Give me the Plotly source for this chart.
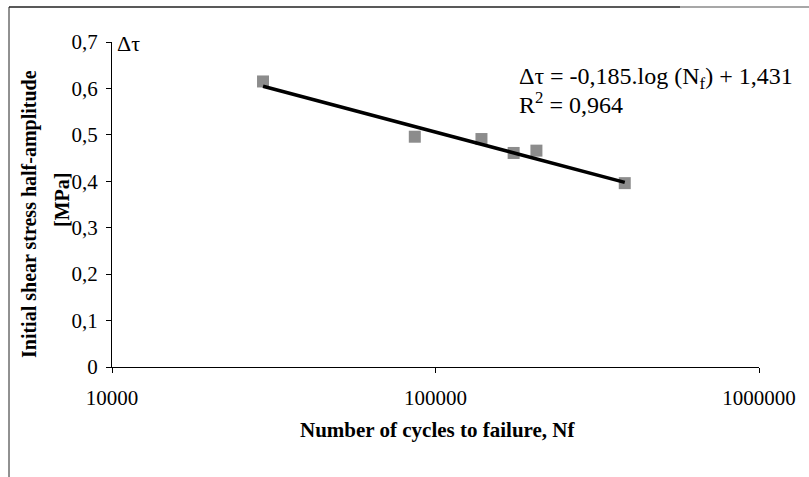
import numpy as np
import plotly.graph_objects as go

# ---- data ----
cycles_to_failure = [29300, 86300, 138700, 174400, 205100, 384600]
shear_stress = [0.615, 0.496, 0.491, 0.461, 0.466, 0.396]
trend_slope = -0.185
trend_intercept = 1.431
r_squared = "0,964"

x_tick_vals = [1e4, 1e5, 1e6]
x_tick_text = ["10000", "100000", "1000000"]
y_tick_vals = [0, 0.1, 0.2, 0.3, 0.4, 0.5, 0.6, 0.7]
y_tick_text = ["0", "0,1", "0,2", "0,3", "0,4", "0,5", "0,6", "0,7"]

# ---- layout geometry ----
W, H = 809, 477
L, R, T, B = 112, 50, 42, 110
PW, PH = W - L - R, H - T - B


def px_x(px):
    return (px - L) / PW


def px_y(py):
    return (H - B - py) / PH


FONT = "Liberation Serif, Times New Roman, serif"

trend_x = [min(cycles_to_failure), max(cycles_to_failure)]
trend_y = [trend_slope * np.log10(v) + trend_intercept for v in trend_x]

fig = go.Figure()
fig.add_trace(go.Scatter(
    x=cycles_to_failure, y=shear_stress, mode="markers",
    marker=dict(symbol="square", size=12, color="#8c8c8c", line=dict(width=0)),
    showlegend=False, hoverinfo="skip",
))
fig.add_trace(go.Scatter(
    x=trend_x, y=trend_y, mode="lines",
    line=dict(color="#000000", width=3.5),
    showlegend=False, hoverinfo="skip",
))

fig.update_layout(
    width=W, height=H,
    margin=dict(l=L, r=R, t=T, b=B),
    paper_bgcolor="white", plot_bgcolor="white",
    font=dict(family=FONT, color="black"),
    showlegend=False,
)
fig.update_xaxes(
    type="log", range=[4, 6],
    tickvals=x_tick_vals, ticktext=x_tick_text,
    tickfont=dict(size=21, family=FONT),
    ticks="outside", ticklen=5, tickcolor="black", tickwidth=1,
    ticklabelstandoff=7,
    showline=True, linecolor="black", linewidth=1,
    showgrid=False, zeroline=False,
)
fig.update_yaxes(
    range=[0, 0.7],
    tickvals=y_tick_vals, ticktext=y_tick_text,
    tickfont=dict(size=21, family=FONT),
    ticks="outside", ticklen=5, tickcolor="black", tickwidth=1,
    ticklabelstandoff=4,
    showline=True, linecolor="black", linewidth=1,
    showgrid=False, zeroline=False,
)

ann = []
# x-axis title
ann.append(dict(
    text="<b>Number of cycles to failure, Nf</b>",
    xref="paper", yref="paper", x=px_x(438), y=px_y(430),
    xanchor="center", yanchor="middle", showarrow=False,
    font=dict(size=21, family=FONT),
))
# y-axis title (two lines)
ann.append(dict(
    text="<b>Initial shear stress half-amplitude</b>",
    xref="paper", yref="paper", x=px_x(30), y=px_y(214),
    xanchor="center", yanchor="middle", showarrow=False, textangle=-90,
    font=dict(size=20, family=FONT),
))
ann.append(dict(
    text="<b>[MPa]</b>",
    xref="paper", yref="paper", x=px_x(62), y=px_y(200),
    xanchor="center", yanchor="middle", showarrow=False, textangle=-90,
    font=dict(size=20, family=FONT),
))
# delta tau near top of y axis
ann.append(dict(
    text="Δτ",
    xref="paper", yref="paper", x=px_x(115), y=px_y(43),
    xanchor="left", yanchor="middle", showarrow=False,
    font=dict(size=22, family=FONT),
))
# regression equation
ann.append(dict(
    text="Δτ = %s.log (N<sub>f</sub>) + %s" % (
        ("%.3f" % trend_slope).replace(".", ","),
        ("%.3f" % trend_intercept).replace(".", ",")),
    xref="paper", yref="paper", x=px_x(517), y=px_y(78),
    xanchor="left", yanchor="middle", showarrow=False,
    font=dict(size=24, family=FONT),
))
ann.append(dict(
    text="R<sup>2</sup> = %s" % r_squared,
    xref="paper", yref="paper", x=px_x(517), y=px_y(103),
    xanchor="left", yanchor="middle", showarrow=False,
    font=dict(size=24, family=FONT),
))
fig.update_layout(annotations=ann)

# chart frame (left and top edges visible in the reference)
fig.add_shape(type="line", xref="paper", yref="paper",
              x0=px_x(9), x1=px_x(9), y0=px_y(7), y1=px_y(477),
              line=dict(color="#222222", width=1))
fig.add_shape(type="line", xref="paper", yref="paper",
              x0=px_x(9), x1=px_x(680), y0=px_y(7), y1=px_y(7),
              line=dict(color="#222222", width=1.5))
fig.add_shape(type="line", xref="paper", yref="paper",
              x0=px_x(680), x1=px_x(809), y0=px_y(7), y1=px_y(7),
              line=dict(color="#8a8a8a", width=1.5))

# remove the default page margin so the figure sits at the window origin
fig.write_html(
    "out.html",
    config={"displayModeBar": False},
    post_script="document.body.style.margin='0';document.body.style.padding='0';",
)
